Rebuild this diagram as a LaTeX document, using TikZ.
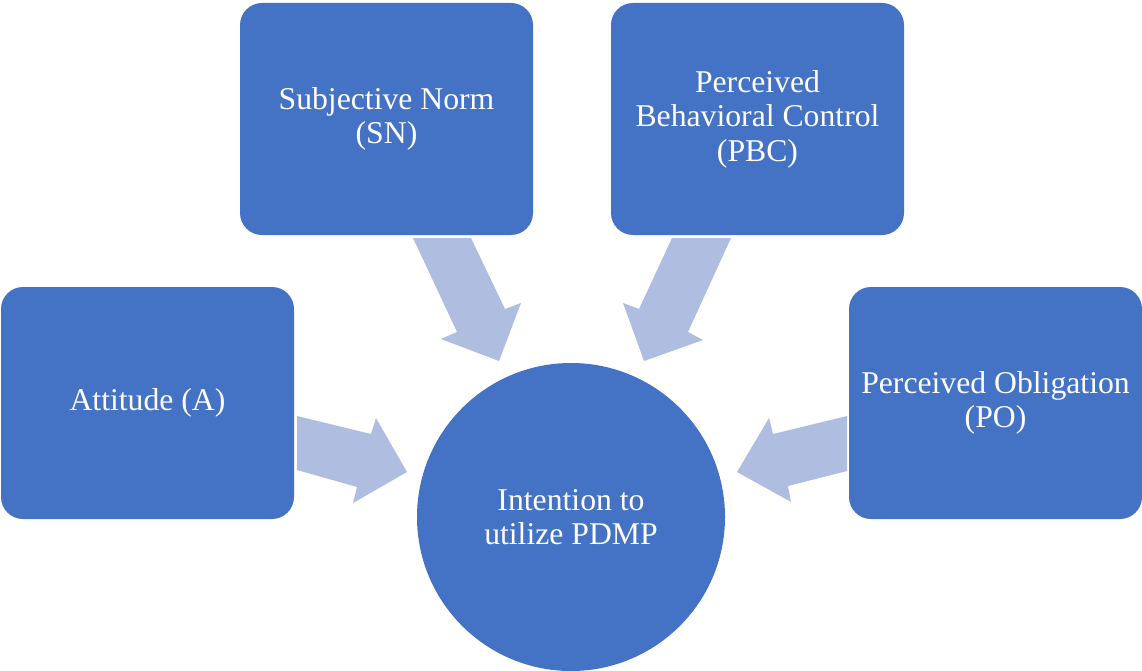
\documentclass[tikz,border=0pt]{standalone}
\usepackage{fontspec}
\setmainfont{Liberation Serif}
\definecolor{boxblue}{RGB}{68,114,196}
\definecolor{arrowblue}{RGB}{175,189,224}
\begin{document}
\begin{tikzpicture}[x=1pt,y=-1pt,
  box/.style={fill=boxblue, draw=none, rounded corners=22pt, minimum width=293pt, minimum height=232pt,
    text=white, align=center, inner sep=0pt, font=\fontsize{31.7}{34.5}\selectfont},
  hub/.style={circle, fill=boxblue, draw=none, minimum size=308pt, inner sep=0pt,
    text=white, align=center, font=\fontsize{31.7}{34.5}\selectfont},
  blockarrow/.style={fill=arrowblue, draw=none}]
\useasboundingbox (0,0) rectangle (1142,671);
% block arrows
\fill[blockarrow] (297,416) -- (371,434) -- (376,418) -- (407,472) -- (353,503) -- (357,487) -- (297,470) -- cycle;
\fill[blockarrow] (847,416) -- (773,434) -- (769,418) -- (737,472) -- (791,502) -- (788,486) -- (847,471) -- cycle;
\fill[blockarrow] (413,238) -- (471,238) -- (505,309) -- (521,303) -- (499,361) -- (441,339) -- (457,332) -- cycle;
\fill[blockarrow] (731,238) -- (672,238) -- (639,309) -- (623,303) -- (644,361) -- (703,340) -- (688,332) -- cycle;
% boxes
\node[box] (A) at (147.5,403) {Attitude (A)};
\node[box] (SN) at (386.5,119) {Subjective Norm\\(SN)};
\node[box] (PBC) at (757.5,119) {Perceived\\Behavioral Control\\(PBC)};
\node[box] (PO) at (995.5,403) {Perceived Obligation\\(PO)};
\node[hub] (I) at (571,517) {Intention to\\utilize PDMP};
\end{tikzpicture}
\end{document}
